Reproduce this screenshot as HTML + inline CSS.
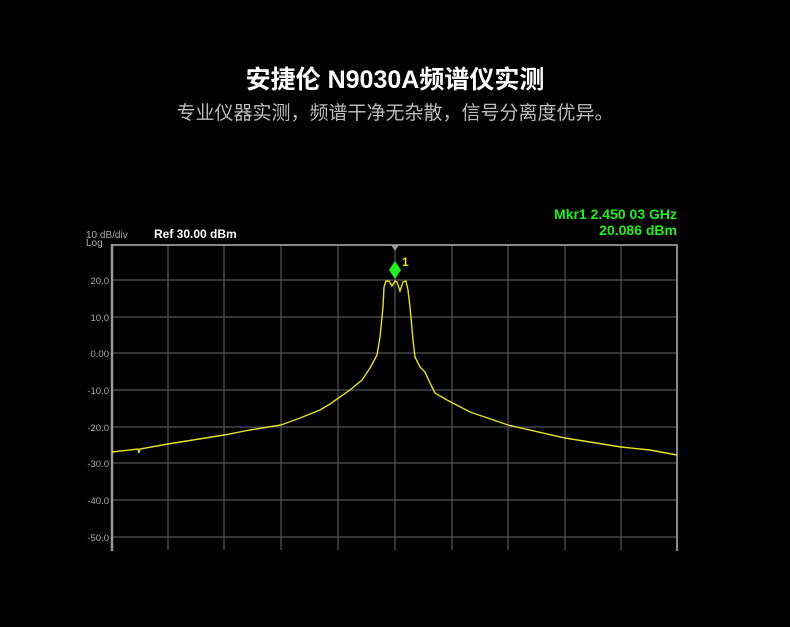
<!DOCTYPE html>
<html><head><meta charset="utf-8"><style>
body{margin:0;background:#000;width:790px;height:627px;overflow:hidden;position:relative;font-family:"Liberation Sans","Noto Sans CJK SC",sans-serif}
.t{position:absolute;white-space:nowrap}
</style></head><body>
<div class="t" style="left:0;width:790px;text-align:center;top:60px;font-size:25px;font-weight:bold;color:#fff">安捷伦 N9030A频谱仪实测</div>
<div class="t" style="left:0;width:790px;text-align:center;top:98px;font-size:19px;color:#bbb">专业仪器实测，频谱干净无杂散，信号分离度优异。</div>
<svg width="790" height="627" style="position:absolute;left:0;top:0" font-family="Liberation Sans, sans-serif">
<g stroke="#555" stroke-width="1.2">
<line x1="168" y1="245" x2="168" y2="550"/><line x1="224" y1="245" x2="224" y2="550"/><line x1="281" y1="245" x2="281" y2="550"/><line x1="338" y1="245" x2="338" y2="550"/><line x1="395" y1="245" x2="395" y2="550"/><line x1="452" y1="245" x2="452" y2="550"/><line x1="508" y1="245" x2="508" y2="550"/><line x1="565" y1="245" x2="565" y2="550"/><line x1="621" y1="245" x2="621" y2="550"/>
<line x1="112" y1="280" x2="677" y2="280"/><line x1="112" y1="317" x2="677" y2="317"/><line x1="112" y1="353" x2="677" y2="353"/><line x1="112" y1="390" x2="677" y2="390"/><line x1="112" y1="427" x2="677" y2="427"/><line x1="112" y1="463" x2="677" y2="463"/><line x1="112" y1="500" x2="677" y2="500"/><line x1="112" y1="537" x2="677" y2="537"/>
</g>
<line x1="112" y1="245" x2="677" y2="245" stroke="#888" stroke-width="2"/>
<line x1="112" y1="244" x2="112" y2="551" stroke="#999" stroke-width="2.5"/>
<line x1="677" y1="244" x2="677" y2="551" stroke="#888" stroke-width="2"/>
<polygon points="391,245 399,245 395,251" fill="#999"/>
<g fill="#aaa" font-size="9.5" text-anchor="end">
<text x="109" y="284">20.0</text><text x="109" y="321">10.0</text><text x="109" y="357">0.00</text><text x="109" y="394">-10.0</text><text x="109" y="431">-20.0</text><text x="109" y="467">-30.0</text><text x="109" y="504">-40.0</text><text x="109" y="541">-50.0</text>
</g>
<text x="86" y="238" fill="#aaa" font-size="10">10 dB/div</text>
<text x="86" y="246" fill="#aaa" font-size="10">Log</text>
<text x="154" y="238" fill="#fff" font-size="12" font-weight="bold">Ref 30.00 dBm</text>
<g fill="#22ee22" font-size="14" font-weight="bold" text-anchor="end">
<text x="677" y="219">Mkr1 2.450 03 GHz</text><text x="677" y="235">20.086 dBm</text>
</g>
<polyline fill="none" stroke="#e8e020" stroke-width="1.4" points="112,452 138,449 139,453 140,449 168,444 224,435 250,430 281,425 300,418 320,410 330,404 350,390 362,380 370,368 377,355 380,337 383,307 384,287 386,281 389,281 392,286 395,281 397,282 400,291 403,282 406,281 408,290 410,307 413,340 415,357 420,367 425,372 430,383 435,393 447,400 470,412 508,425 565,438 621,447 650,450 677,455"/>
<polygon points="395,261 401,270 395,279 389,270" fill="#22ee22"/>
<text x="402" y="266" fill="#e8e020" font-size="12" font-weight="bold">1</text>
</svg>
</body></html>
